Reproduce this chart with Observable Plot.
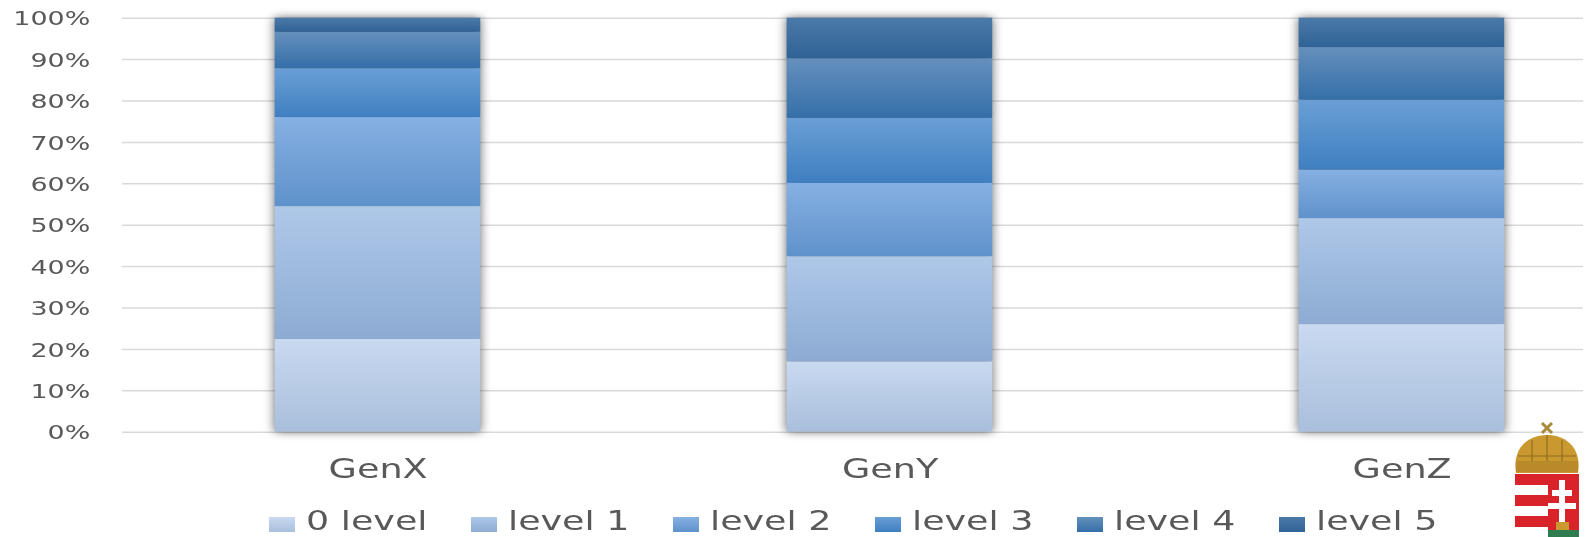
<!DOCTYPE html>
<html>
<head>
<meta charset="utf-8">
<script src="https://cdn.jsdelivr.net/npm/d3@7"></script>
<script src="https://cdn.jsdelivr.net/npm/@observablehq/plot@0.6"></script>
<style>
html,body{margin:0;padding:0;background:#fff;width:1589px;height:537px;overflow:hidden;position:relative}
svg text{font-family:"DejaVu Sans",sans-serif}
g[aria-label$="tick label"]{filter:blur(.55px)}
g[aria-label="bar"]{filter:drop-shadow(0 0 4px rgba(0,0,0,.6))}
#legend{position:absolute;left:0;top:0;width:1589px;height:537px;overflow:hidden;pointer-events:none}
.sw{position:absolute;top:517px;width:26px;height:15px}
.lb{position:absolute;top:507px;font:27px/27px "DejaVu Sans",sans-serif;color:#595959;transform:scaleX(1.35);transform-origin:0 0;white-space:nowrap;filter:blur(.55px)}
#arms{position:absolute;left:1512px;top:420px;filter:blur(.5px)}
</style>
</head>
<body>
<div id="chart"></div>
<div id="legend"></div>
<svg id="arms" width="70" height="117" viewBox="0 0 70 117">
  <path d="M30 3l10 10M40 3l-10 10" stroke="#a88a3a" stroke-width="3"/>
  <path d="M4 53C0 28 16 15 35 15s35 13 31 38z" fill="#c9982f"/>
  <path d="M35 15v36M20 20v31M50 20v31M6 36h58" stroke="#8f6c25" stroke-width="1.2" fill="none"/>
  <rect x="4" y="41" width="62" height="11" fill="#b98a2a"/>
  <rect x="3" y="54" width="64" height="63" fill="#d8232a"/>
  <rect x="3" y="65" width="33" height="10" fill="#fff"/>
  <rect x="3" y="86" width="33" height="10" fill="#fff"/>
  <rect x="3" y="107" width="33" height="10" fill="#fff"/>
  <path d="M50 60v42M40 73h20M36 86h28" stroke="#fff" stroke-width="6" fill="none"/>
  <path d="M36 117v-7h31v7z" fill="#2f7d4f"/>
  <rect x="44" y="102" width="13" height="8" fill="#c9982f"/>
</svg>
<script>
const generations = ["GenX", "GenY", "GenZ"];
const levels = ["0 level", "level 1", "level 2", "level 3", "level 4", "level 5"];
const level0 = [22.4, 17.0, 26.0];
const level1 = [32.1, 25.4, 25.6];
const level2 = [21.5, 17.7, 11.7];
const level3 = [11.8, 15.7, 16.9];
const level4 = [8.8, 14.4, 12.7];
const level5 = [3.4, 9.8, 7.1];
const yTicks = [0, 10, 20, 30, 40, 50, 60, 70, 80, 90, 100];
const gradientTop = ["#c9d9f0", "#aec8e8", "#86b0e2", "#6a9fd6", "#6590bd", "#4b7aa8"];
const gradientBottom = ["#a9bfdc", "#8dabd3", "#5f92cb", "#3f7fc0", "#356fa8", "#2f6296"];

const series = [level0, level1, level2, level3, level4, level5];
const rows = levels.flatMap((level, i) => generations.map((g, j) => ({gen: g, level, value: series[i][j]})));

const stretch = 1.38, W = 1589, H = 500;
const defs = () => {
  const svg = d3.create("svg:g");
  const d = svg.append("defs");
  levels.forEach((_, i) => {
    const g = d.append("linearGradient").attr("id", "g" + i).attr("x1", 0).attr("x2", 0).attr("y1", 0).attr("y2", 1);
    g.append("stop").attr("offset", "0").attr("stop-color", gradientTop[i]);
    g.append("stop").attr("offset", "1").attr("stop-color", gradientBottom[i]);
  });
  return svg.node();
};

const plot = Plot.plot({
  width: W / stretch,
  height: H,
  marginTop: 17.7,
  marginBottom: H - 431.7,
  marginLeft: 122 / stretch,
  marginRight: 6 / stretch,
  style: {background: "transparent", overflow: "hidden"},
  x: {domain: generations, range: [120.5 / stretch, 1659.5 / stretch], paddingInner: 0.598, paddingOuter: 0.299, label: null},
  y: {domain: [0, 100], label: null},
  color: {type: "ordinal", domain: levels, range: levels.map((_, i) => `url(#g${i})`)},
  marks: [
    defs,
    Plot.ruleY(yTicks, {stroke: "#d9d9d9", strokeWidth: 1.5}),
    Plot.barY(rows, {x: "gen", y: "value", fill: "level", order: null}),
    Plot.axisY({ticks: yTicks, tickFormat: d => d + "%", tickSize: 0, tickPadding: 0, dx: -23.5, dy: 1, anchor: "left", fontSize: 19.5, fill: "#595959", label: null}),
    Plot.axisX({tickSize: 0, tickPadding: 27, fontSize: 26.5, fill: "#595959", label: null})
  ]
});
plot.setAttribute("preserveAspectRatio", "none");
plot.style.width = W + "px";
plot.style.height = H + "px";
plot.style.maxWidth = "none";
plot.style.display = "block";
document.getElementById("chart").appendChild(plot);

const legend = document.getElementById("legend");
levels.forEach((name, i) => {
  const sw = document.createElement("div");
  sw.className = "sw";
  sw.style.left = (268.5 + 202 * i) + "px";
  sw.style.background = `linear-gradient(${gradientTop[i]},${gradientBottom[i]})`;
  legend.appendChild(sw);
  const lb = document.createElement("div");
  lb.className = "lb";
  lb.textContent = name;
  lb.style.left = (306 + 202 * i) + "px";
  legend.appendChild(lb);
});
</script>
</body>
</html>
